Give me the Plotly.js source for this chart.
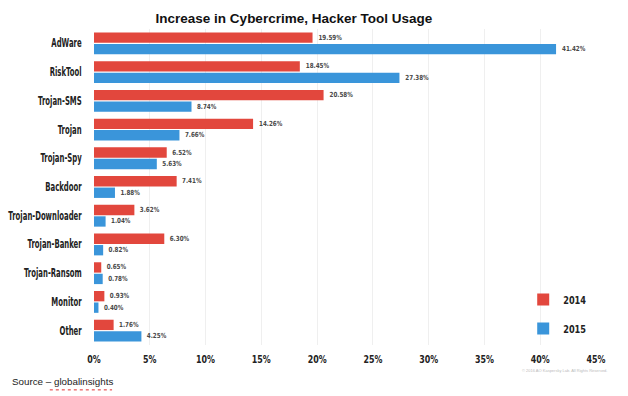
<!DOCTYPE html>
<html>
<head>
<meta charset="utf-8">
<script src="https://cdn.plot.ly/plotly-3.0.1.min.js"></script>
<style>
html,body{margin:0;padding:0;background:#fff;}
#chart{width:628px;height:396px;}
</style>
</head>
<body>
<div id="chart"></div>
<script>
var categories = ["AdWare","RiskTool","Trojan-SMS","Trojan","Trojan-Spy","Backdoor","Trojan-Downloader","Trojan-Banker","Trojan-Ransom","Monitor","Other"];
var values2014 = [19.59,18.45,20.58,14.26,6.52,7.41,3.62,6.30,0.65,0.93,1.76];
var values2015 = [41.42,27.38,8.74,7.66,5.63,1.88,1.04,0.82,0.78,0.40,4.25];
var xTickVals = [0,5,10,15,20,25,30,35,40,45];
var xTickText = ["0%","5%","10%","15%","20%","25%","30%","35%","40%","45%"];

var narrow = "'DejaVu Sans', sans-serif";

function mk(name, vals, color, grp){
  return {
    type:'bar', orientation:'h', name:name, x:vals, y:categories,
    marker:{color:color},
    legendgroup:grp,
    text: vals.map(function(v){return v.toFixed(2)+'%';}),
    textposition:'outside', cliponaxis:false,
    textfont:{family:narrow, size:7, color:'#484848', weight:'bold'},
    hoverinfo:'skip'
  };
}
var data = [mk('2014', values2014, '#e2473d', 'a'), mk('2015', values2015, '#3a95da', 'b')];

var layout = {
  width:628, height:396,
  margin:{l:94, r:32, t:29, b:51},
  paper_bgcolor:'#fff', plot_bgcolor:'#fff',
  title:{text:'<b>Increase in Cybercrime, Hacker Tool Usage</b>', x:0.468, xanchor:'center', y:0.953, yanchor:'middle',
         font:{family:'Liberation Sans, Arial, sans-serif', size:13.5, color:'#111'}},
  barmode:'group', bargap:0.2, bargroupgap:0.1,
  xaxis:{range:[0,45], tickvals:xTickVals, ticktext:xTickText, showgrid:true, gridcolor:'#efefef', gridwidth:1,
         zeroline:false, showline:false, ticks:'outside', ticklen:4, tickcolor:'rgba(0,0,0,0)',
         tickfont:{family:narrow, size:11, color:'#222', weight:'bold'}, fixedrange:true},
  yaxis:{type:'category', categoryorder:'array', categoryarray:categories, autorange:'reversed',
         showgrid:false, zeroline:false, showline:false, ticks:'outside', ticklen:9, tickcolor:'rgba(0,0,0,0)',
         tickfont:{family:narrow, size:11.5, color:'#222', weight:'bold'}, fixedrange:true},
  showlegend:true,
  legend:{x:0.855, xanchor:'left', y:0.19, yanchor:'top', traceorder:'grouped', tracegroupgap:10,
          font:{family:narrow, size:10.5, color:'#222', weight:'bold'}, bgcolor:'rgba(0,0,0,0)', itemwidth:30},
  annotations:[
    {text:'Source – globalinsights', xref:'paper', yref:'paper', x:-0.167, y:-0.115, xanchor:'left', yanchor:'middle',
     showarrow:false, font:{family:'Liberation Sans, Arial, sans-serif', size:9.8, color:'#222'}},
    {text:'© 2016 AO Kaspersky Lab. All Rights Reserved.', xref:'paper', yref:'paper', x:1.025, y:-0.082, xanchor:'right', yanchor:'middle',
     showarrow:false, font:{family:'Liberation Sans, Arial, sans-serif', size:4, color:'#bbb'}}
  ],
  shapes:[
    {type:'line', xref:'paper', yref:'paper', x0:-0.088, x1:0.036, y0:-0.142, y1:-0.142,
     line:{color:'#e03030', width:1, dash:'dot'}}
  ]
};

function condense(selector, ratio){
  document.querySelectorAll('#chart ' + selector).forEach(function(el){
    var w = el.getComputedTextLength();
    if (w > 0) {
      el.setAttribute('textLength', (w * ratio).toFixed(2));
      el.setAttribute('lengthAdjust', 'spacingAndGlyphs');
    }
  });
}

Plotly.newPlot('chart', data, layout, {displayModeBar:false, staticPlot:true}).then(function(){
  condense('.ytick text', 0.6);
  condense('.xtick text', 0.72);
  condense('.legendtext', 0.78);
  condense('.bartext text, text.bartext', 0.8);
});
</script>
</body>
</html>
